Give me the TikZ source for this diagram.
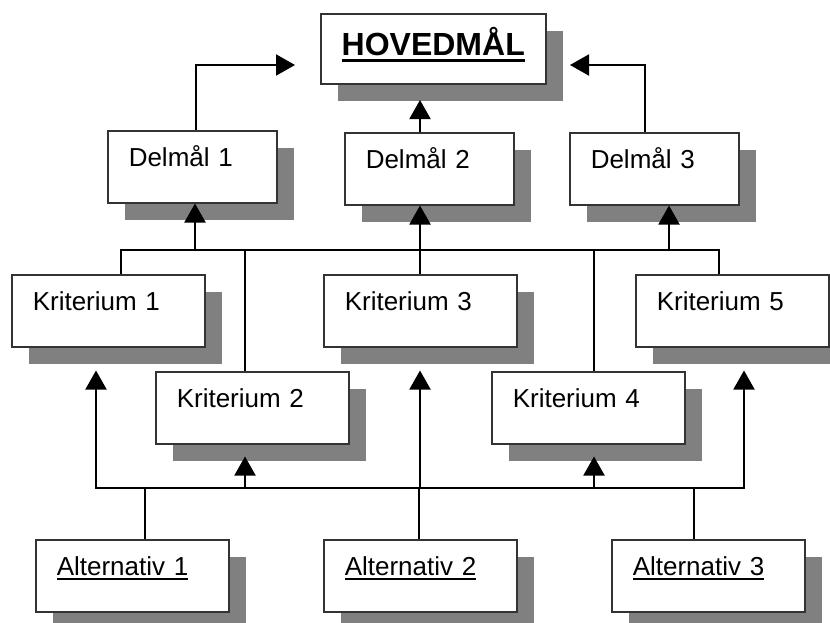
\documentclass[tikz,border=0pt]{standalone}
\usepackage{fontspec}
\setmainfont{Liberation Sans}
\usetikzlibrary{arrows.meta,shadows,calc}
\definecolor{shade}{HTML}{808080}
\definecolor{edge}{HTML}{333333}
\newcommand\myul[3]{\setbox0=\hbox{#3}\leavevmode\rlap{\rule[-#1]{\wd0}{#2}}\box0}
\begin{document}
\begin{tikzpicture}[x=1pt,y=-1pt,
  box/.style={draw=edge, line width=1.5pt, fill=white, anchor=north west,
    drop shadow={shadow xshift=17pt, shadow yshift=-17pt, fill=shade, opacity=1, draw=none},
    inner xsep=21pt, inner ysep=0pt, text width=151pt, align=left,
    text height=36pt, text depth=36pt, font=\fontsize{26}{30}\selectfont},
  dbox/.style={box, text width=127pt},
  topbox/.style={box, inner xsep=0pt, text width=225pt, align=center,
    text height=42pt, text depth=28pt, font=\fontsize{32}{36}\selectfont\bfseries},
  conn/.style={line width=2pt, draw=black},
  tip/.style={-{Triangle[length=19pt,width=21pt]}},
  arr/.style={conn, tip},
  darr/.style={conn, {Triangle[length=19pt,width=21pt]}-{Triangle[length=19pt,width=21pt]}}
]
\useasboundingbox (0,0) rectangle (830,622);

% nodes
\node[topbox] (hoved) at (320,13) {\myul{6pt}{3pt}{HOVEDMÅL}};

\node[dbox] (d1) at (107,130) {Delmål 1};
\node[dbox] (d2) at (344,132) {Delmål 2};
\node[dbox] (d3) at (569,132) {Delmål 3};

\node[box] (k1) at (11,274) {Kriterium 1};
\node[box] (k3) at (323,274) {Kriterium 3};
\node[box] (k5) at (635,274) {Kriterium 5};
\node[box] (k2) at (155,371) {Kriterium 2};
\node[box] (k4) at (491,371) {Kriterium 4};

\node[box] (a1) at (35,539) {\myul{4pt}{2pt}{Alternativ 1}};
\node[box] (a2) at (323,539) {\myul{4pt}{2pt}{Alternativ 2}};
\node[box] (a3) at (611,539) {\myul{4pt}{2pt}{Alternativ 3}};

% coordinates
\coordinate (hl) at (295,65);
\coordinate (hr) at (570,65);
\coordinate (hb) at (420,100);

\coordinate (b1l) at (121,250);
\coordinate (b1r) at (719,250);
\coordinate (u1) at (195,250);
\coordinate (x2) at (245,250);
\coordinate (x3) at (420,250);
\coordinate (x4) at (594,250);
\coordinate (u3) at (669,250);

\coordinate (b2l) at (96,488);
\coordinate (b2r) at (744,488);
\coordinate (y2) at (245,488);
\coordinate (y3) at (420,488);
\coordinate (y4) at (594,488);
\coordinate (c1) at (145,488);
\coordinate (c2) at (419,488);
\coordinate (c3) at (694,488);

% Delmål -> Hovedmål
\draw[arr] ([xshift=3.5pt]d1.north) |- (hl);
\draw[arr] ([xshift=-9pt]d3.north) |- (hr);
\draw[arr] (d2.north -| hb) -- (hb);

% Kriterier -> Delmål
\draw[conn] (k1.north -| b1l) |- (b1r) -- (k5.north -| b1r);
\draw[conn] (x2) -- (k2.north -| x2);
\draw[conn] (x3) -- (k3.north -| x3);
\draw[conn] (x4) -- (k4.north -| x4);
\draw[arr] (u1) -- (d1.south -| u1);
\draw[arr] (x3) -- (d2.south -| x3);
\draw[arr] (u3) -- (d3.south -| u3);

% Alternativer -> Kriterier
\draw[darr] ($(k5.south -| b2r)+(0,23)$) -- (b2r) -- (b2l) -- ($(k1.south -| b2l)+(0,23)$);
\draw[arr] (y2) -- ($(k2.south -| y2)+(0,12)$);
\draw[arr] (y3) -- ($(k3.south -| y3)+(0,23)$);
\draw[arr] (y4) -- ($(k4.south -| y4)+(0,12)$);
\draw[conn] (a1.north -| c1) -- (c1);
\draw[conn] (a2.north -| c2) -- (c2);
\draw[conn] (a3.north -| c3) -- (c3);
\end{tikzpicture}
\end{document}
